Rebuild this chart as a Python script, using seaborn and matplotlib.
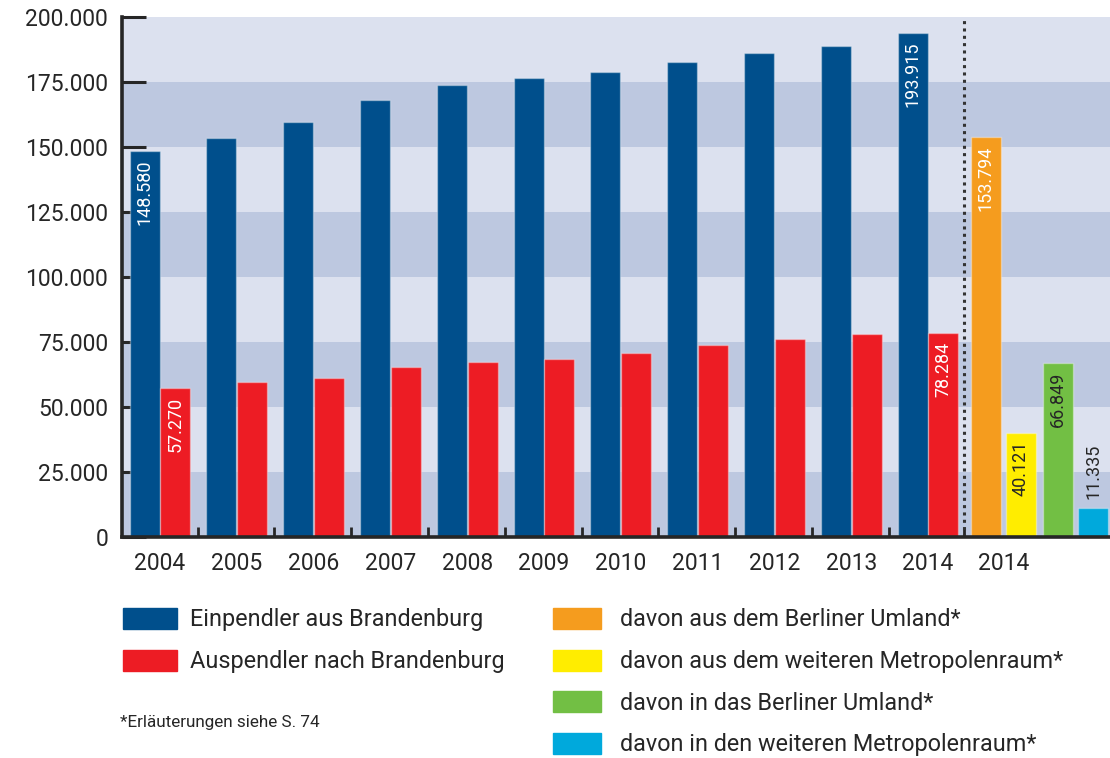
import matplotlib
matplotlib.use("Agg")
import matplotlib.pyplot as plt
from matplotlib.patches import Patch
from matplotlib.ticker import FuncFormatter, FixedLocator
import numpy as np
import pandas as pd
import seaborn as sns

# ---- data -------------------------------------------------------------
years = [2004, 2005, 2006, 2007, 2008, 2009, 2010, 2011, 2012, 2013, 2014]
einpendler = [148580, 153300, 159800, 167900, 174000, 176700, 179000,
              182500, 186000, 189000, 193915]
auspendler = [57270, 59800, 61300, 65200, 67500, 68300, 70600,
              73700, 76300, 77900, 78284]
detail_labels = ["davon aus dem Berliner Umland*",
                 "davon aus dem weiteren Metropolenraum*",
                 "davon in das Berliner Umland*",
                 "davon in den weiteren Metropolenraum*"]
detail_values = [153794, 40121, 66849, 11335]
detail_year = "2014"
y_ticks = [0, 25000, 50000, 75000, 100000, 125000, 150000, 175000, 200000]

# ---- styling -----------------------------------------------------------
BLUE = "#004f8c"
RED = "#ed1c24"
DETAIL_COLORS = ["#f59c1e", "#ffed00", "#72bf44", "#00a9dc"]
BAND_LIGHT = "#dce1ef"
BAND_DARK = "#bdc8e0"
INK = "#262626"

sns.set_style("ticks")
plt.rcParams["font.family"] = ["Roboto", "DejaVu Sans"]
plt.rcParams["text.color"] = INK

fig = plt.figure(figsize=(11.10, 7.58), dpi=100)
ax = fig.add_axes([122 / 1110, 1 - 537 / 758, 1 - 122 / 1110, (537 - 17) / 758])

# positions on a numeric scale: one unit per year group
n = len(years)
grp = np.arange(n)
bar_w = 0.39
blue_x = grp - 0.2
red_x = grp + 0.2
detail_x = [10.755, 11.21, 11.69, 12.15]

main = pd.DataFrame({"x": np.concatenate([blue_x, red_x]),
                     "value": einpendler + auspendler,
                     "series": ["Einpendler aus Brandenburg"] * n
                     + ["Auspendler nach Brandenburg"] * n})
detail = pd.DataFrame({"x": detail_x, "value": detail_values,
                       "series": detail_labels})

edge = (1, 1, 1, 0.35)
for name, color in [("Einpendler aus Brandenburg", BLUE),
                    ("Auspendler nach Brandenburg", RED)]:
    sub = main[main["series"] == name]
    sns.barplot(data=sub, x="x", y="value", native_scale=True, color=color,
                saturation=1, width=bar_w, errorbar=None, ax=ax,
                edgecolor=edge, linewidth=1, zorder=3)
for (_, row), color in zip(detail.iterrows(), DETAIL_COLORS):
    sns.barplot(x=[row["x"]], y=[row["value"]], native_scale=True,
                color=color, saturation=1, width=bar_w, errorbar=None,
                ax=ax, edgecolor=edge, linewidth=1, zorder=3)

# alternating horizontal bands
for i, (lo, hi) in enumerate(zip(y_ticks[:-1], y_ticks[1:])):
    ax.axhspan(lo, hi, color=BAND_DARK if i % 2 == 0 else BAND_LIGHT,
               lw=0, zorder=0)

# separator between the time series and the 2014 breakdown
sep_x = 10.47
ax.axvline(sep_x, color="#333333", lw=2.2, ls=(0, (1, 1.4)), zorder=4)

ax.set_xlim(-0.495, 12.37)
ax.set_ylim(0, 200000)

# axes, ticks and labels
for s in ["top", "right"]:
    ax.spines[s].set_visible(False)
for s in ["left", "bottom"]:
    ax.spines[s].set_color(INK)
    ax.spines[s].set_linewidth(2.6)
    ax.spines[s].set_zorder(5)

fmt = FuncFormatter(lambda v, _: f"{int(v):,}".replace(",", "."))
ax.yaxis.set_major_locator(FixedLocator(y_ticks))
ax.yaxis.set_major_formatter(fmt)
ax.tick_params(axis="y", direction="in", length=17, width=2.2, color=INK,
               labelsize=16.5, labelcolor=INK, pad=10)

xt = list(grp) + [10.98]
xl = [str(y) for y in years] + [detail_year]
ax.set_xticks(xt)
ax.set_xticklabels(xl)
ax.tick_params(axis="x", which="major", length=0, labelsize=16.5,
               labelcolor=INK, pad=11)
ax.set_xticks(list(grp[:-1] + 0.49) + [sep_x], minor=True)
ax.tick_params(axis="x", which="minor", direction="in", length=7,
               width=2, color=INK)
ax.set_xlabel("")
ax.set_ylabel("")


def vlabel(x, v, color, inside=True):
    txt = f"{v:,}".replace(",", ".")
    ax.annotate(txt, (x, v), xytext=(0, -6 if inside else 6),
                textcoords="offset points", rotation=90, ha="center",
                va="top" if inside else "bottom", color=color,
                fontsize=13, zorder=6)


vlabel(blue_x[0], einpendler[0], "white")
vlabel(red_x[0], auspendler[0], "white")
vlabel(blue_x[-1], einpendler[-1], "white")
vlabel(red_x[-1], auspendler[-1], "white")
label_colors = ["white", INK, INK, INK]
for x, v, c, inside in zip(detail_x, detail_values, label_colors,
                           [True, True, True, False]):
    vlabel(x, v, c, inside)

# legends below the chart
left_handles = [Patch(color=BLUE), Patch(color=RED)]
fig.legend(left_handles,
           ["Einpendler aus Brandenburg", "Auspendler nach Brandenburg"],
           loc="upper left", bbox_to_anchor=(123 / 1110, 1 - 608 / 758),
           frameon=False, fontsize=16.8, handlelength=2.3,
           handleheight=1.0, handletextpad=0.56, labelspacing=0.78,
           borderpad=0, borderaxespad=0)
right_handles = [Patch(color=c) for c in DETAIL_COLORS]
fig.legend(right_handles, detail_labels, loc="upper left",
           bbox_to_anchor=(553 / 1110, 1 - 608 / 758), frameon=False,
           fontsize=16.8, handlelength=2.06, handleheight=1.0,
           handletextpad=0.8, labelspacing=0.78, borderpad=0,
           borderaxespad=0)

fig.text(120 / 1110, 1 - 722 / 758, "*Erläuterungen siehe S. 74",
         fontsize=12.3, color=INK, va="center", ha="left")

fig.savefig("out.png", dpi=100)
